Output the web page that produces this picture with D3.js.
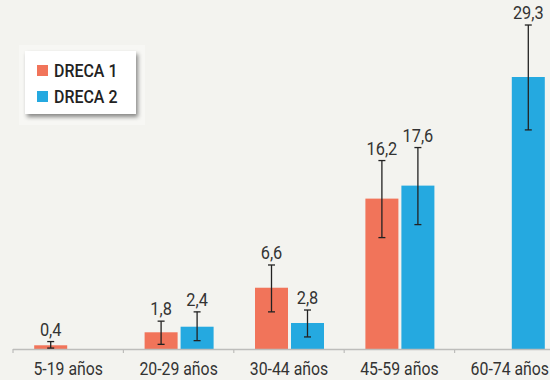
<!DOCTYPE html>
<html>
<head>
<meta charset="utf-8">
<script src="https://cdn.jsdelivr.net/npm/d3@7"></script>
<style>
  body { margin: 0; background: #f3f3ef; }
  svg { display: block; }
</style>
</head>
<body>
<div id="chart"></div>
<script>
// datos
var categories = ["5-19 años", "20-29 años", "30-44 años", "45-59 años", "60-74 años"];
var series = ["DRECA 1", "DRECA 2"];
var dreca1 = [0.4, 1.8, 6.6, 16.2, null];
var dreca2 = [null, 2.4, 2.8, 17.6, 29.3];
var dreca1Low = [0.1, 0.5, 4.0, 12.0, null];
var dreca1High = [0.8, 3.0, 9.05, 20.3, null];
var dreca2Low = [null, 0.9, 1.3, 13.4, 23.6];
var dreca2High = [null, 4.0, 4.2, 21.7, 34.9];

var colors = ["#f1745a", "#25a9e0"];
var fontFam = "Roboto, 'Liberation Sans', sans-serif";

var svg = d3.select("#chart").append("svg")
  .attr("width", 550)
  .attr("height", 380);

var x = d3.scaleBand()
  .domain(categories)
  .range([13, 565]);

var y = d3.scaleLinear()
  .domain([0, 29.3])
  .range([349, 77]);

// filas para cada barra
var rows = [];
categories.forEach(function (c, i) {
  [dreca1, dreca2].forEach(function (arr, s) {
    if (arr[i] === null) return;
    rows.push({
      cat: c, s: s, v: arr[i],
      lo: s === 0 ? dreca1Low[i] : dreca2Low[i],
      hi: s === 0 ? dreca1High[i] : dreca2High[i]
    });
  });
});

function barX(d) {
  var c = x(d.cat) + x.bandwidth() / 2;
  return d.s === 0 ? c - 34 : c + 2;
}
var barW = 33;

svg.selectAll("rect.bar")
  .data(rows)
  .enter()
  .append("rect")
  .attr("class", "bar")
  .attr("x", barX)
  .attr("y", function (d) { return y(d.v); })
  .attr("width", barW)
  .attr("height", function (d) { return y(0) - y(d.v); })
  .style("fill", function (d) { return colors[d.s]; });

// eje x
var axis = svg.append("g")
  .attr("transform", "translate(0," + y(0) + ")");
axis.append("line")
  .attr("x1", 13).attr("x2", 550)
  .attr("y1", 0.5).attr("y2", 0.5)
  .style("stroke", "#bdbdbb")
  .style("stroke-width", 1.5);
axis.selectAll("line.tick")
  .data(categories)
  .enter()
  .append("line")
  .attr("class", "tick")
  .attr("x1", function (d) { return x(d); })
  .attr("x2", function (d) { return x(d); })
  .attr("y1", 0).attr("y2", 4)
  .style("stroke", "#bdbdbb")
  .style("stroke-width", 1.2);
// texto estrecho: escala horizontal
axis.selectAll("text")
  .data(categories)
  .enter()
  .append("text")
  .attr("transform", function (d) {
    return "translate(" + (x(d) + x.bandwidth() / 2) + ",26) scale(0.88,1)";
  })
  .attr("text-anchor", "middle")
  .text(function (d) { return d; })
  .style("fill", "#333")
  .style("font-family", fontFam)
  .style("font-size", "18px");

// barras de error
var err = svg.selectAll("g.err")
  .data(rows)
  .enter()
  .append("g")
  .attr("class", "err")
  .attr("transform", function (d) { return "translate(" + (barX(d) + barW / 2) + ",0)"; });
err.append("line")
  .attr("y1", function (d) { return y(d.lo); })
  .attr("y2", function (d) { return y(d.hi); })
  .style("stroke", "#222")
  .style("stroke-width", 1.3);
err.append("line")
  .attr("x1", -3.5).attr("x2", 3.5)
  .attr("y1", function (d) { return y(d.lo); })
  .attr("y2", function (d) { return y(d.lo); })
  .style("stroke", "#222")
  .style("stroke-width", 1.3);
err.append("line")
  .attr("x1", -3.5).attr("x2", 3.5)
  .attr("y1", function (d) { return y(d.hi); })
  .attr("y2", function (d) { return y(d.hi); })
  .style("stroke", "#222")
  .style("stroke-width", 1.3);
err.append("text")
  .attr("transform", function (d) { return "translate(0," + (y(d.hi) - 6) + ") scale(0.86,1)"; })
  .attr("text-anchor", "middle")
  .text(function (d) { return String(d.v).replace(".", ","); })
  .style("fill", "#333")
  .style("font-family", fontFam)
  .style("font-size", "19px");

// leyenda
var defs = svg.append("defs");
var f = defs.append("filter").attr("id", "sombra")
  .attr("x", "-20%").attr("y", "-20%").attr("width", "150%").attr("height", "160%");
f.append("feDropShadow")
  .attr("dx", 2).attr("dy", 3).attr("stdDeviation", 2)
  .attr("flood-color", "#000").attr("flood-opacity", 0.45);

svg.append("rect")
  .attr("x", 19).attr("y", 45).attr("width", 126).attr("height", 80)
  .style("fill", "#f7f7f4");
var legend = svg.append("g").attr("transform", "translate(25,51)");
legend.append("rect")
  .attr("width", 111).attr("height", 63)
  .style("fill", "#fff")
  .attr("filter", "url(#sombra)");
legend.selectAll("rect.key")
  .data(series)
  .enter()
  .append("rect")
  .attr("class", "key")
  .attr("x", 12)
  .attr("y", function (d, i) { return 14 + i * 26; })
  .attr("width", 11).attr("height", 11)
  .style("fill", function (d, i) { return colors[i]; });
legend.selectAll("text")
  .data(series)
  .enter()
  .append("text")
  .attr("transform", function (d, i) { return "translate(29," + (26 + i * 26) + ") scale(0.84,1)"; })
  .text(function (d) { return d; })
  .style("fill", "#222")
  .style("font-family", fontFam)
  .style("font-weight", "500")
  .style("font-size", "19px");
</script>
</body>
</html>
